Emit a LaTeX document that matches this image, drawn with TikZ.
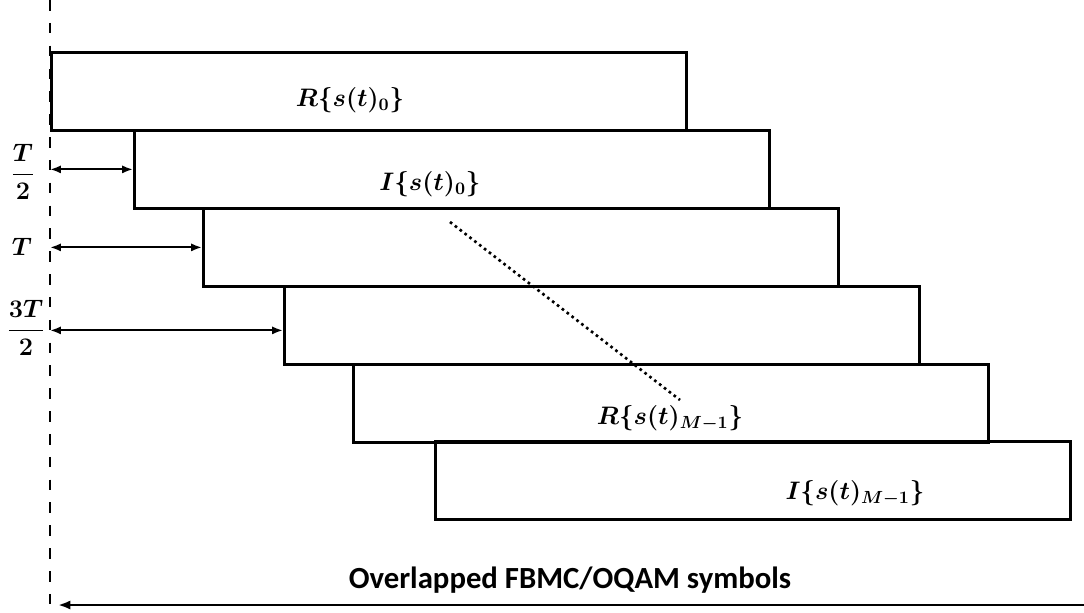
\documentclass[tikz,border=0pt]{standalone}
\usepackage{amsmath}
\usepackage{fontspec}
\newfontfamily\capfont{Carlito}
\usetikzlibrary{arrows.meta, calc}
\tikzset{
  symbol/.style={draw, line width=1.6pt, minimum width=12.7cm, minimum height=1.56cm,
    anchor=north west, inner sep=0pt},
  offset/.style={{Latex[length=2.2mm]}-{Latex[length=2.2mm]}, line width=1.2pt},
  origin/.style={line width=1.5pt, dash pattern=on 6pt off 7pt},
  lbl/.style={font=\Large\boldmath}
}

\begin{document}
\begin{tikzpicture}[x=0.02cm, y=-0.02cm]
\useasboundingbox (0,0) rectangle (1084,612);
% time origin
\coordinate (top) at (50,0);
\coordinate (bot) at (50,612);
\draw[origin] (top) -- (bot);
% staggered OQAM symbols
\foreach \x/\y [count=\i from 0] in {50/51, 133/129, 202/207, 283/285, 352/363, 434/440}
  \node[symbol] (r\i) at (\x,\y) {};
\node[lbl] (re0) at (350,100) {$R\{s(t)_0\}$};
\node[lbl] (im0) at (430,184) {$I\{s(t)_0\}$};
\node[lbl] (reM) at (670,418) {$R\{s(t)_{M-1}\}$};
\node[lbl] (imM) at (855,493) {$I\{s(t)_{M-1}\}$};
\coordinate (d0) at (450,222);
\coordinate (d1) at (680,400);
\draw[dotted, line width=1.5pt] (d0) -- (d1);
% offsets
\draw[offset] (r1.west -| top) -- (r1.west);
\draw[offset] (r2.west -| top) -- (r2.west);
\draw[offset] ($(r3.west -| top)+(0,5)$) -- ($(r3.west)+(0,5)$);
\node[lbl] (half) at (23,172) {$\dfrac{T}{2}$};
\node[lbl] (full) at (22,247) {$T$};
\node[lbl] (three) at (26,328) {$\dfrac{3T}{2}$};
% overall span
\coordinate (s0) at (1084,605);
\coordinate (s1) at (58,605);
\draw[-{Latex[length=2.5mm]}, line width=1.6pt] (s0) -- (s1);
\node[font=\capfont\bfseries\fontsize{17.5}{20}\selectfont] (span) at (570,580) {Overlapped FBMC/OQAM symbols};
\end{tikzpicture}
\end{document}
